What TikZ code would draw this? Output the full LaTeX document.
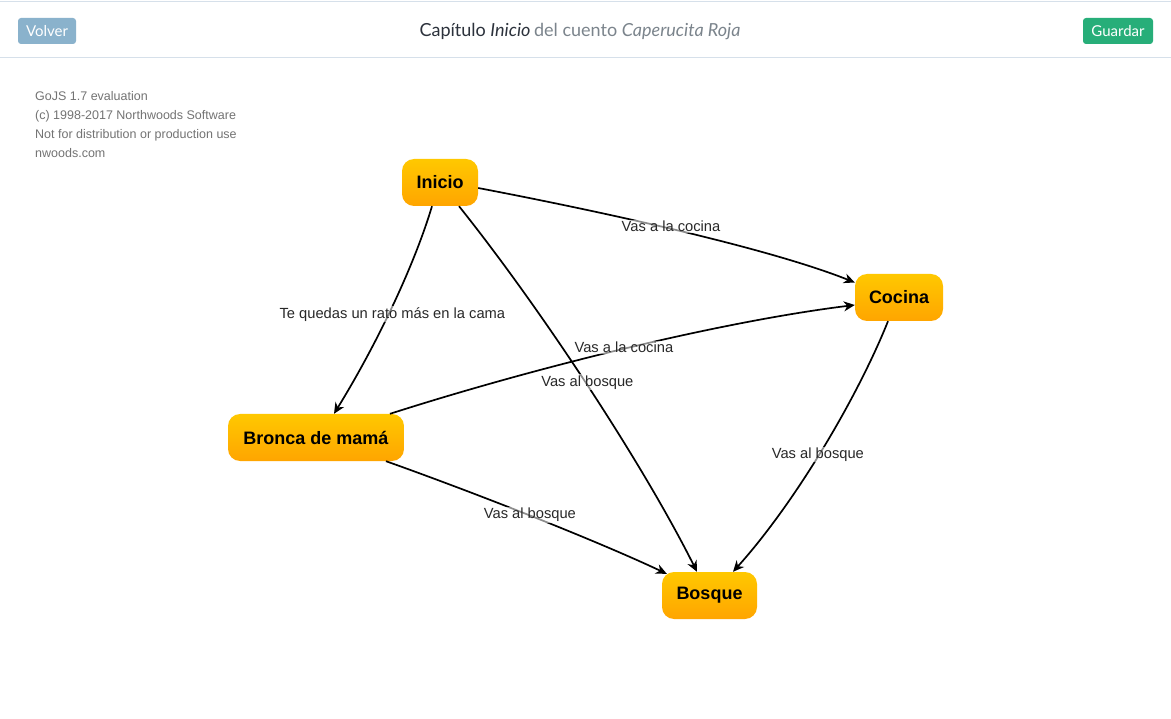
\documentclass[tikz,border=0pt]{standalone}
\usepackage{fontspec}
\setmainfont{Liberation Sans}
\newfontfamily\latofont{Lato}
\usetikzlibrary{arrows.meta,calc}
\definecolor{hdrline}{RGB}{214,224,234}
\definecolor{volvercol}{RGB}{138,178,204}
\definecolor{guardarcol}{RGB}{39,174,121}
\definecolor{titledark}{RGB}{44,50,60}
\definecolor{titlegrey}{RGB}{123,132,140}
\definecolor{wmgrey}{RGB}{115,115,115}
\definecolor{nodetop}{RGB}{255,200,0}
\definecolor{nodebot}{RGB}{255,165,0}
\definecolor{lbltext}{RGB}{40,40,40}
\tikzset{
  statebox/.style={rounded corners=12pt, top color=nodetop, bottom color=nodebot,
    minimum height=47pt, inner sep=0pt, font=\bfseries\fontsize{18}{20}\selectfont, text=black},
  edge/.style={line width=1.7pt, draw=black, -{Stealth[length=11pt,width=10pt,inset=3.5pt]}},
  lbl/.style={font=\fontsize{14.7}{17}\selectfont, text=lbltext, fill=white, fill opacity=0.55,
    text opacity=1, inner sep=1pt},
  btn/.style={rounded corners=3pt, minimum height=26pt, inner sep=0pt, text=white,
    font=\latofont\fontsize{15}{17}\selectfont},
}
\begin{document}
\begin{tikzpicture}[x=1pt,y=-1pt]
\useasboundingbox (0,0) rectangle (1171,719);
\fill[white] (0,0) rectangle (1171,719);
% header
\draw[hdrline, line width=1.2pt] (0,1.7) -- (1171,1.7);
\draw[hdrline, line width=1.2pt] (0,57.3) -- (1171,57.3);
\node[btn, fill=volvercol, minimum width=58pt] (volver) at (47,31) {Volver};
\node[btn, fill=guardarcol, minimum width=70pt] (guardar) at (1118,31) {Guardar};
\node[font=\latofont\fontsize{18}{20}\selectfont, inner sep=0pt] (title) at (580,32)
  {{\color{titledark}Capítulo \textit{Inicio}}{\color{titlegrey}\hspace{0.2em}del cuento \textit{Caperucita Roja}}};
% watermark
\node[anchor=north west, align=left, text=wmgrey, inner sep=0pt,
  font=\fontsize{12.5}{19}\selectfont] (wm) at (35,91)
  {GoJS 1.7 evaluation\\(c) 1998-2017 Northwoods Software\\Not for distribution or production use\\nwoods.com};
% nodes
\node[statebox, minimum width=76pt] (inicio) at (440,182.5) {Inicio};
\node[statebox, minimum width=88pt] (cocina) at (899,297.5) {Cocina};
\node[statebox, minimum width=176pt] (bronca) at (316,437.5) {Bronca de mamá};
\node[statebox, minimum width=95pt] (bosque) at (709.5,595.5) {Bosque};
% edges
\draw[edge] ($(inicio.east)+(0,5.5)$) .. controls +(110,21) and +(-90,-36) .. ($(cocina.west)+(0,-15)$)
  node[lbl, pos=0.5, xshift=-3pt, yshift=3.5pt] {Vas a la cocina};
\draw[edge] ($(inicio.south)+(-8,0)$) .. controls +(-18,60) and +(43,-70) .. ($(bronca.north)+(18,0)$)
  node[lbl, pos=0.5, yshift=-8pt] {Te quedas un rato más en la cama};
\draw[edge] ($(inicio.south)+(19,0)$) .. controls +(80,100) and +(-55,-110) .. ($(bosque.north)+(-12.5,0)$)
  node[lbl, pos=0.5, yshift=3pt] {Vas al bosque};
\draw[edge] ($(bronca.north)+(74,0)$) .. controls +(150,-48) and +(-130,16) .. ($(cocina.west)+(0,7.5)$)
  node[lbl, pos=0.5, xshift=-6pt] {Vas a la cocina};
\draw[edge] ($(cocina.south)+(-11,0)$) .. controls +(-30,75) and +(63,-70) .. ($(bosque.north)+(23.5,0)$)
  node[lbl, pos=0.5, xshift=-5pt, yshift=-6pt] {Vas al bosque};
\draw[edge] ($(bronca.south)+(70,0)$) .. controls +(90,32) and +(-70,-33) .. ($(bosque.north west)+(5,2)$)
  node[lbl, pos=0.5, xshift=-4pt, yshift=2pt] {Vas al bosque};
\end{tikzpicture}
\end{document}
